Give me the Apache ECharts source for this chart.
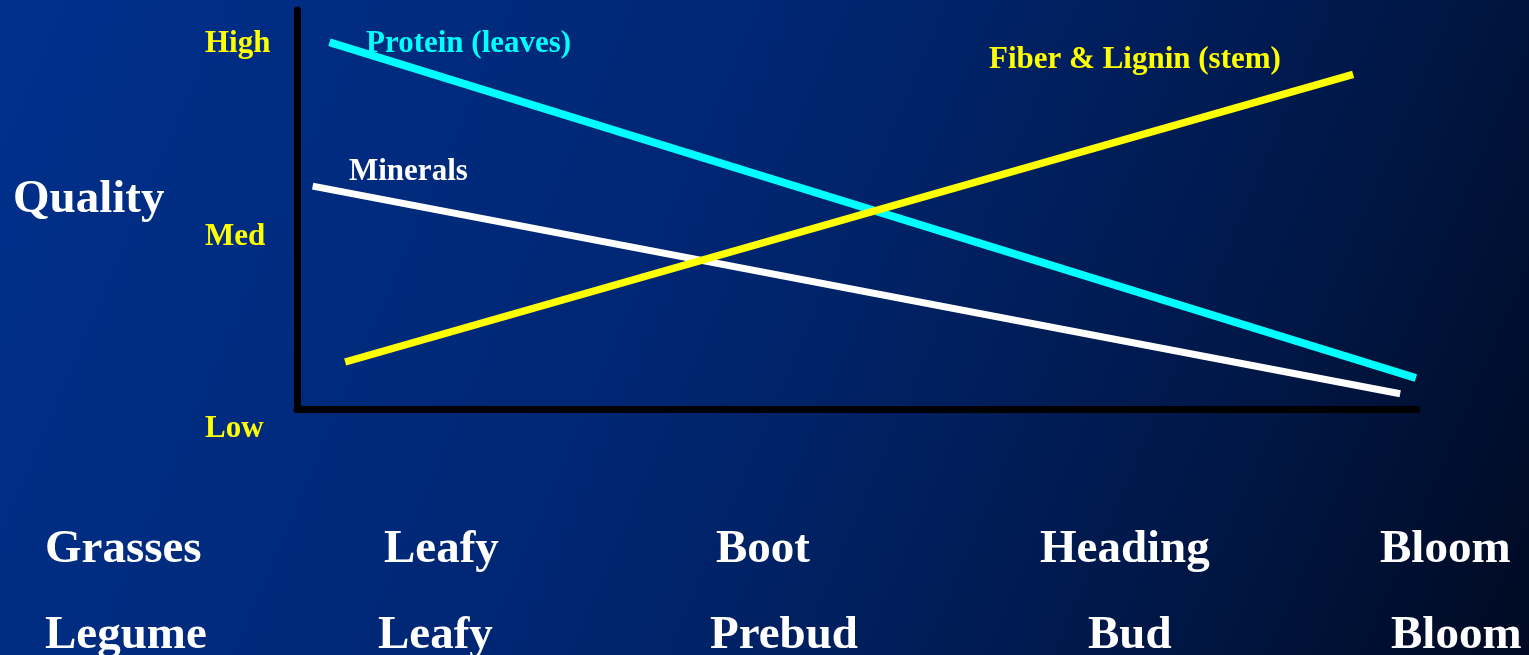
<!DOCTYPE html>
<html><head><meta charset="utf-8">
<script src="https://cdn.jsdelivr.net/npm/echarts@6/dist/echarts.min.js"></script>
<style>html,body{margin:0;padding:0;background:#00206a}#c{width:1529px;height:655px}</style>
</head><body><div id="c"></div>
<script>
// ---- data ----
const qualityLevels = ['Low', 'Med', 'High'];
const axisTitle = 'Quality';
const grassStages = ['Grasses', 'Leafy', 'Boot', 'Heading', 'Bloom'];
const legumeStages = ['Legume', 'Leafy', 'Prebud', 'Bud', 'Bloom'];
const seriesNames = ['Protein (leaves)', 'Minerals', 'Fiber & Lignin (stem)'];
// [growth progress (0-100), quality level (0=Low, 1=Med, 2=High)]
const proteinPoints = [[2.9, 2.009], [99.9, 0.265]];
const mineralPoints = [[1.4, 1.262], [98.5, 0.183]];
const fiberPoints = [[4.3, 0.348], [94.3, 1.842]];

// ---- layout / style ----
const FONT = "'Liberation Serif', 'Times New Roman', serif";
const grassX = [45, 384, 716, 1040, 1380];
const legumeX = [45, 378, 710, 1088, 1391];
const seriesColors = ['#00ffff', '#ffffff', '#ffff00'];
const seriesWidths = [8, 7, 7.5];
const seriesLabelPos = [[366, 44], [349, 171.5], [989, 59.5]];

const chart = echarts.init(document.getElementById('c'), null, {renderer: 'canvas'});

const graphics = [];
graphics.push({type: 'text', x: 13, y: 199.5, style: {text: axisTitle, fill: '#ffffff', font: 'bold 47px ' + FONT, align: 'left', verticalAlign: 'middle'}});
grassStages.forEach((t, i) => graphics.push({type: 'text', x: grassX[i], y: 550, style: {text: t, fill: '#ffffff', font: 'bold 47px ' + FONT, align: 'left', verticalAlign: 'middle'}}));
legumeStages.forEach((t, i) => graphics.push({type: 'text', x: legumeX[i], y: 636, style: {text: t, fill: '#ffffff', font: 'bold 47px ' + FONT, align: 'left', verticalAlign: 'middle'}}));
seriesNames.forEach((t, i) => graphics.push({type: 'text', x: seriesLabelPos[i][0], y: seriesLabelPos[i][1], style: {text: t, fill: seriesColors[i], font: 'bold 31px ' + FONT, align: 'left', verticalAlign: 'middle'}}));

const allPoints = [proteinPoints, mineralPoints, fiberPoints];

chart.setOption({
  animation: false,
  backgroundColor: {
    type: 'linear', x: 0, y: 0, x2: 1, y2: 1,
    colorStops: [
      {offset: 0, color: '#00308c'},
      {offset: 0.45, color: '#002672'},
      {offset: 0.75, color: '#00194c'},
      {offset: 1, color: '#000a22'}
    ]
  },
  grid: [
    {left: 297, top: 44, width: 1120, height: 385, containLabel: false},
    {left: 297, top: 10, width: 1120, height: 399.5, containLabel: false}
  ],
  xAxis: [
    {gridIndex: 0, type: 'value', min: 0, max: 100, show: false},
    {gridIndex: 1, type: 'value', min: 0, max: 100,
      axisLine: {show: true, lineStyle: {color: '#000000', width: 7}},
      axisTick: {show: false}, axisLabel: {show: false}, splitLine: {show: false}}
  ],
  yAxis: [
    {gridIndex: 0, type: 'value', min: 0, max: 2, interval: 1,
      axisLine: {show: false}, axisTick: {show: false}, splitLine: {show: false},
      axisLabel: {show: true, align: 'left', margin: 92, color: '#ffff00',
        fontFamily: FONT, fontWeight: 'bold', fontSize: 31,
        formatter: v => qualityLevels[Math.round(v)] || ''}},
    {gridIndex: 1, type: 'value', min: 0, max: 1,
      axisLine: {show: true, lineStyle: {color: '#000000', width: 7}},
      axisTick: {show: false}, axisLabel: {show: false}, splitLine: {show: false}}
  ],
  series: allPoints.map((pts, i) => ({
    name: seriesNames[i], type: 'line', xAxisIndex: 0, yAxisIndex: 0,
    data: pts, symbol: 'none', clip: false, z: 3,
    lineStyle: {color: seriesColors[i], width: seriesWidths[i], cap: 'butt'}
  })),
  graphic: graphics
});
</script>
</body></html>
